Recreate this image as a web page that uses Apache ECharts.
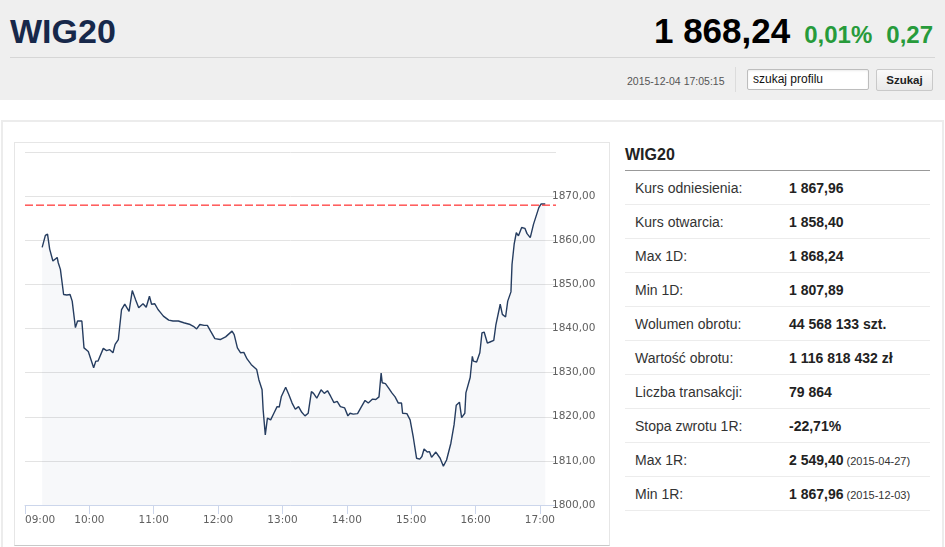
<!DOCTYPE html>
<html>
<head>
<meta charset="utf-8">
<script src="https://cdn.jsdelivr.net/npm/echarts@6/dist/echarts.min.js"></script>
<style>
  html, body { margin:0; padding:0; background:#fff; }
  body { width:945px; height:547px; overflow:hidden; position:relative; font-family:"Liberation Sans", Arial, sans-serif; }
  .abs { position:absolute; }
  #header { left:0; top:0; width:945px; height:100px; background:#efefef; }
  #title { left:10px; top:11px; font-size:34px; font-weight:bold; color:#17284a; line-height:40px; }
  #quote { right:12px; top:11px; line-height:40px; white-space:nowrap; font-weight:bold; }
  #quote .px { font-size:35px; color:#000; }
  #quote .chg { font-size:24px; color:#279b3b; margin-left:14px; }
  #sep { left:10px; top:57px; width:925px; height:1px; background:#d6d6d6; }
  #stamp { left:627px; top:74px; font-size:10.5px; color:#555; line-height:14px; }
  #vdiv { left:735px; top:67px; width:1px; height:25px; background:#dcdcdc; }
  #search { left:747px; top:69px; width:122px; height:21px; background:#fff; border:1px solid #bdbdbd; border-radius:2px; box-sizing:border-box; font-size:12px; color:#111; line-height:19px; padding-left:5px; box-shadow: inset 0 1px 2px rgba(0,0,0,0.08); }
  #btn { left:876px; top:69px; width:57px; height:22px; box-sizing:border-box; border:1px solid #c9c9c9; border-radius:2px; background:linear-gradient(#fafafa,#e9e9e9); font-size:11.5px; font-weight:bold; color:#222; text-align:center; line-height:20px; }
  #panel { left:1px; top:120px; width:939px; height:450px; border:2px solid #ececec; }
  #chartBox { left:14px; top:142px; width:594px; height:402px; border:1px solid #e6e6e6; border-bottom:1px solid #c8c8c8; }
  #chart { left:15px; top:143px; width:594px; height:402px; }
  #tblTitle { left:625px; top:145px; font-size:16px; font-weight:bold; color:#222; line-height:20px; }
  #tblLine { left:625px; top:170px; width:305px; height:1px; background:#999; }
  #tbl { left:625px; top:171px; width:305px; }
  .row { position:relative; height:33px; border-bottom:1px solid #ececec; font-size:14px; color:#333; }
  .row .lab { position:absolute; left:10px; top:0; line-height:34px; }
  .row .val { position:absolute; left:164px; top:0; line-height:34px; font-weight:bold; color:#222; white-space:nowrap; }
  .row .note { font-weight:normal; font-size:11px; color:#333; }
</style>
</head>
<body>
<div id="header" class="abs"></div>
<div id="title" class="abs">WIG20</div>
<div id="quote" class="abs"><span class="px" id="qPrice"></span><span class="chg" id="qPct"></span><span class="chg" id="qAbs"></span></div>
<div id="sep" class="abs"></div>
<div id="stamp" class="abs"></div>
<div id="vdiv" class="abs"></div>
<div id="search" class="abs">szukaj profilu</div>
<div id="btn" class="abs">Szukaj</div>
<div id="panel" class="abs"></div>
<div id="chartBox" class="abs"></div>
<div id="chart" class="abs"></div>
<div id="tblTitle" class="abs">WIG20</div>
<div id="tblLine" class="abs"></div>
<div id="tbl" class="abs"></div>
<script>
// ---- header data ----
const quotePrice = '1 868,24';
const quotePct = '0,01%';
const quoteAbs = '0,27';
const stampText = '2015-12-04 17:05:15';

// ---- table data ----
const tableLabels = ['Kurs odniesienia:', 'Kurs otwarcia:', 'Max 1D:', 'Min 1D:', 'Wolumen obrotu:', 'Wartość obrotu:', 'Liczba transakcji:', 'Stopa zwrotu 1R:', 'Max 1R:', 'Min 1R:'];
const tableValues = ['1 867,96', '1 858,40', '1 868,24', '1 807,89', '44 568 133 szt.', '1 116 818 432 zł', '79 864', '-22,71%', '2 549,40', '1 867,96'];
const tableNotes = ['', '', '', '', '', '', '', '', '(2015-04-27)', '(2015-12-03)'];

// ---- chart data ----
const referenceLevel = 1867.96;
const axisStart = '09:00';
const axisEnd = '17:15';
const xTickLabels = ['09:00', '10:00', '11:00', '12:00', '13:00', '14:00', '15:00', '16:00', '17:00'];
const times = ['09:16','09:19','09:21','09:23','09:26','09:30','09:31','09:33','09:36','09:39','09:42','09:44','09:47','09:49','09:53','09:55','09:59',
 '10:04','10:06','10:08','10:13','10:16','10:19','10:22','10:24','10:27','10:30','10:33','10:37','10:40','10:43','10:46','10:50','10:53','10:56','10:58',
 '11:01','11:04','11:06','11:09','11:14','11:18','11:23','11:28','11:34','11:37','11:40','11:43','11:47','11:50','11:53','11:57',
 '12:02','12:07','12:13','12:15','12:18','12:21','12:24','12:27','12:31','12:36','12:38','12:41','12:42','12:44','12:46','12:49','12:52','12:55','12:57','12:59',
 '13:03','13:06','13:09','13:12','13:15','13:18','13:21','13:24','13:27','13:29','13:32','13:36','13:39','13:42','13:45','13:48','13:51','13:54','13:58',
 '14:01','14:03','14:06','14:10','14:13','14:17','14:20','14:24','14:27','14:30','14:32','14:33','14:36','14:39','14:42','14:45','14:48','14:51','14:52','14:56','14:59',
 '15:02','15:05','15:08','15:10','15:12','15:15','15:17','15:19','15:23','15:27','15:30','15:33','15:37','15:40','15:42','15:45','15:47','15:50','15:51','15:55','15:57','15:58',
 '16:01','16:04','16:06','16:08','16:11','16:14','16:17','16:19','16:23','16:25','16:28','16:30','16:33','16:34','16:36','16:38','16:40','16:43','16:46','16:48','16:51','16:54','16:59',
 '17:01','17:05'];
const values = [1858.4,1861.1,1861.4,1858.0,1855.3,1856.1,1854.9,1853.4,1847.7,1847.6,1847.7,1846.2,1840.2,1841.7,1841.7,1835.6,1834.8,
 1831.1,1832.6,1832.6,1835.5,1835.0,1835.2,1834.5,1836.4,1837.5,1844.3,1845.5,1843.9,1848.6,1846.6,1844.7,1845.6,1844.8,1847.3,1845.5,
 1845.6,1844.3,1843.7,1842.8,1841.9,1841.7,1841.7,1841.3,1840.9,1840.5,1839.9,1840.9,1840.7,1840.7,1839.4,1837.7,
 1837.5,1838.1,1839.4,1838.6,1835.6,1834.5,1834.6,1833.1,1831.8,1830.7,1828.4,1826.1,1821.6,1815.9,1819.7,1819.3,1820.8,1822.3,1822.2,1824.6,
 1826.7,1825.0,1823.1,1821.7,1822.3,1821.0,1820.2,1820.8,1825.7,1825.3,1824.2,1826.1,1825.3,1825.9,1824.6,1823.2,1823.5,1822.3,1822.0,
 1820.2,1820.8,1820.6,1820.7,1822.0,1823.7,1823.1,1824.0,1823.9,1824.5,1829.9,1827.7,1827.5,1826.5,1825.4,1824.5,1823.1,1823.1,1820.8,1820.7,1819.3,
 1815.3,1810.6,1810.4,1811.0,1812.7,1812.0,1812.1,1810.8,1812.0,1810.6,1808.8,1810.2,1814.0,1818.2,1822.6,1823.3,1819.8,1820.8,1825.4,1828.9,1833.7,1832.6,
 1832.4,1834.5,1839.0,1839.2,1836.7,1837.0,1837.3,1840.9,1845.5,1843.2,1842.6,1846.2,1848.3,1854.5,1859.1,1861.7,1861.0,1862.9,1862.7,1861.5,1860.6,1863.6,1867.4,
 1868.2,1868.24];

// ---- header / table DOM ----
document.getElementById('qPrice').textContent = quotePrice;
document.getElementById('qPct').textContent = quotePct;
document.getElementById('qAbs').textContent = quoteAbs;
document.getElementById('stamp').textContent = stampText;
const tbl = document.getElementById('tbl');
tableLabels.forEach((lab, i) => {
  const row = document.createElement('div');
  row.className = 'row';
  const l = document.createElement('div'); l.className = 'lab'; l.textContent = lab;
  const v = document.createElement('div'); v.className = 'val'; v.textContent = tableValues[i];
  if (tableNotes[i]) {
    const n = document.createElement('span'); n.className = 'note'; n.textContent = ' ' + tableNotes[i];
    v.appendChild(n);
  }
  row.appendChild(l); row.appendChild(v);
  tbl.appendChild(row);
});

// ---- chart ----
function toMin(s) { const p = s.split(':'); return (+p[0]) * 60 + (+p[1]); }
function toHM(m) { const h = Math.floor(m / 60), mm = Math.round(m % 60); return (h < 10 ? '0' : '') + h + ':' + (mm < 10 ? '0' : '') + mm; }
const tickMins = xTickLabels.map(toMin);
const xMin = toMin(axisStart), xMax = toMin(axisEnd);
const seriesData = times.map((t, i) => [toMin(t), values[i]]);
const refData = [[xMin, referenceLevel], [xMax, referenceLevel]];

const chart = echarts.init(document.getElementById('chart'), null, { renderer: 'canvas' });
chart.setOption({
  animation: false,
  backgroundColor: 'transparent',
  grid: { left: 10, right: 53, top: 9, bottom: 40, containLabel: false },
  xAxis: {
    type: 'value',
    min: xMin, max: xMax, interval: 60,
    axisLine: { show: true, lineStyle: { color: '#ccd6eb', width: 1 } },
    axisTick: { show: true, length: 9, customValues: tickMins, lineStyle: { color: '#ccd6eb' } },
    axisLabel: {
      customValues: tickMins,
      formatter: v => toHM(v),
      color: '#606060', fontSize: 10.5, fontFamily: 'DejaVu Sans', margin: 10,
      alignMinLabel: 'left'
    },
    splitLine: { show: false }
  },
  yAxis: {
    type: 'value', position: 'right',
    min: 1800, max: 1880, interval: 10,
    axisLine: { show: false }, axisTick: { show: false },
    splitLine: { show: true, lineStyle: { color: '#e3e3e3', width: 1 } },
    axisLabel: {
      showMaxLabel: false,
      formatter: v => v.toFixed(2).replace('.', ','),
      color: '#606060', fontSize: 10.5, fontFamily: 'DejaVu Sans',
      margin: -4, align: 'left', verticalAlign: 'middle', padding: [0, 0, 12, 0]
    }
  },
  series: [{
    type: 'line',
    name: 'WIG20',
    data: seriesData,
    showSymbol: false,
    smooth: false,
    color: '#263d60',
    lineStyle: { color: '#263d60', width: 1.4 },
    areaStyle: { color: 'rgba(40,70,120,0.05)', origin: 'start' },
    z: 3
  }, {
    type: 'line',
    name: 'Kurs odniesienia',
    data: refData,
    showSymbol: false,
    silent: true,
    color: '#ff0000',
    lineStyle: { color: '#ff0000', type: [8, 3], width: 1 },
    z: 4
  }]
});
</script>
</body>
</html>
